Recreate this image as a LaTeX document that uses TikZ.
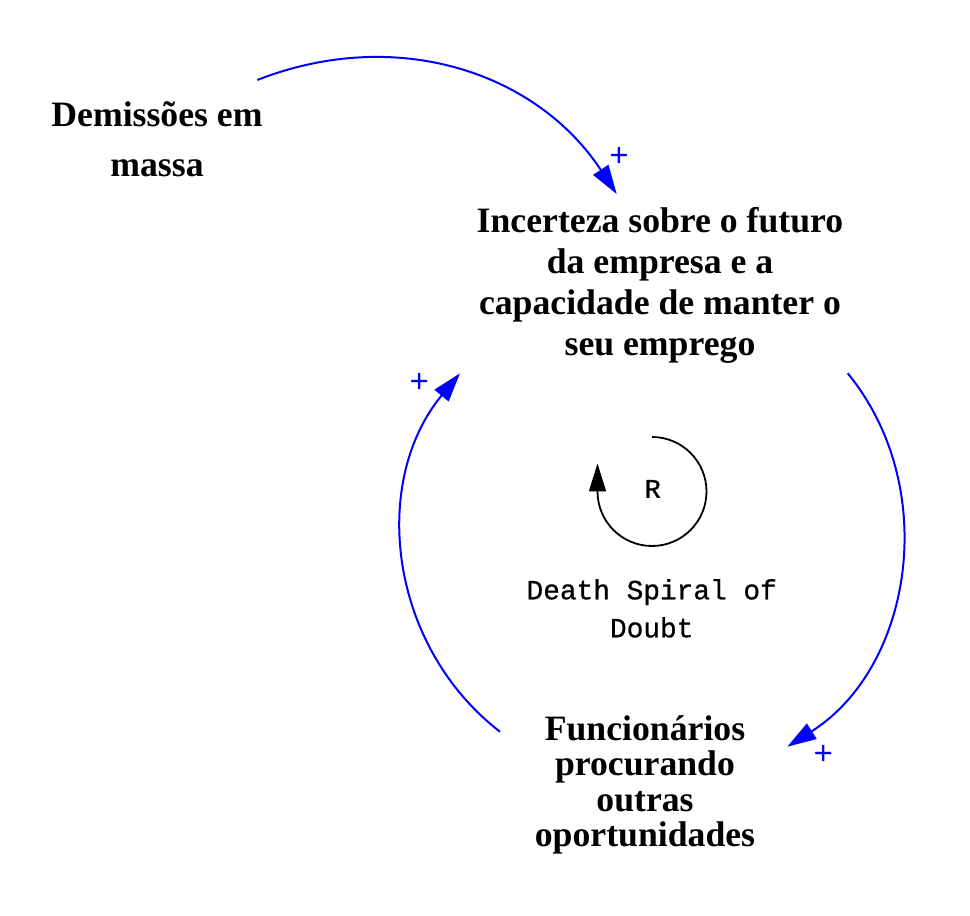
\documentclass[tikz,border=0pt]{standalone}
\usepackage{fontspec}
\setmainfont{Liberation Serif}
\newfontfamily\courierfont[FakeBold=0.8]{Liberation Mono}
\newfontfamily\plainmono{Liberation Mono}
\usetikzlibrary{arrows.meta}

\begin{document}
\begin{tikzpicture}[x=0.5pt,y=0.5pt,
  var/.style={align=center, inner sep=0pt, font=\fontsize{17.85pt}{#1}\selectfont\bfseries},
  link/.style={blue, line width=1pt, -{Triangle[length=14.5pt,width=9pt]}},
  polarity/.style={inner sep=0pt, text=blue, font=\plainmono\fontsize{16.5pt}{16.5pt}\selectfont},
  loopname/.style={align=center, inner sep=0pt, font=\courierfont\fontsize{13.9pt}{19pt}\selectfont}]

\useasboundingbox (0,0) rectangle (970,916);

\node (dem) at (157,776.6) [var=25pt] {Demissões em\\massa};
\node (inc) at (660,631.1) [var=20.5pt] {Incerteza sobre o futuro\\da empresa e a\\capacidade de manter o\\seu emprego};
\node (fun) at (645,131.1) [var=17.8pt] {Funcionários\\procurando\\outras\\oportunidades};

% links
\draw [link] ([shift={(100.3,59.4)}]dem.center) to[bend left=39] ([shift={(-43.3,90.9)}]inc.center);
\draw [link] ([shift={(187.7,-88.4)}]inc.center) to[bend left=48.5] ([shift={(142.3,38.2)}]fun.center);
\draw [link] ([shift={(-145,53.2)}]fun.center) to[bend left=46] ([shift={(-200,-88.4)}]inc.center);

\node (p1) at (619,759) [polarity] {+};
\node (p2) at (419.3,532.7) [polarity] {+};
\node (p3) at (823.3,161) [polarity] {+};

% loop
\node (R) at (652.7,427) [font=\courierfont\fontsize{13.5pt}{13.5pt}\selectfont, inner sep=0pt] {R};
\draw [line width=0.9pt, -{Triangle[length=14pt,width=8.5pt]}] ([shift={(-0.7,52)}]R.center) arc [start angle=90, end angle=-180, radius=54.5] -- ++(0,28);
\node (doubt) at (651.7,307.6) [loopname] {Death Spiral of\\Doubt};

\end{tikzpicture}
\end{document}
